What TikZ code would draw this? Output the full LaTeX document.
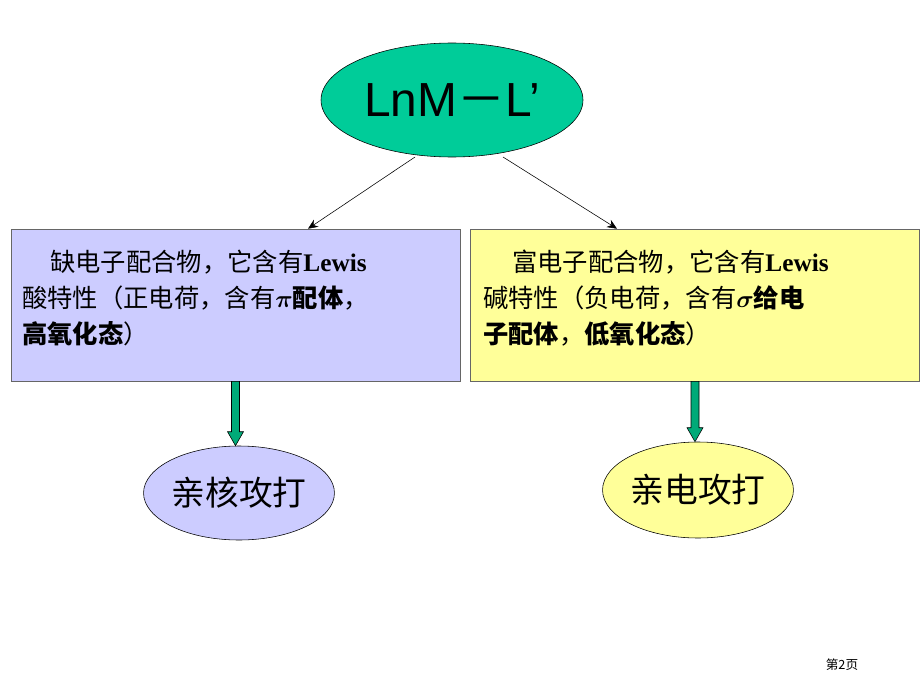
\documentclass[tikz,border=0pt]{standalone}
\usepackage{amsmath}
\usepackage{bm}
\usepackage{fontspec}
\setmainfont{Liberation Serif}
\setsansfont{Liberation Sans}
\newfontfamily\cjk{Noto Sans CJK SC}
\usetikzlibrary{positioning,calc,arrows.meta,shapes.geometric}
\definecolor{topgreen}{RGB}{0,204,153}
\definecolor{lilac}{RGB}{204,204,255}
\definecolor{paleyellow}{RGB}{255,255,153}
\definecolor{shaftgreen}{RGB}{0,170,120}
\tikzset{
  blob/.style={ellipse, draw=black, inner sep=0pt},
  panel/.style={draw=black!60, minimum width=449*0.025cm, minimum height=152*0.025cm, inner sep=0pt},
  line/.style={anchor=west, inner sep=0pt, font=\fontsize{18}{20}\selectfont\cjk},
}
\newcommand{\bx}[1]{{\bfseries #1}}
\newcommand{\lw}{{\rmfamily\bfseries Lewis}}
\begin{document}
\begin{tikzpicture}[x=0.025cm,y=-0.025cm]
  \useasboundingbox (0,0) rectangle (920,690);
  % top
  \node[blob, fill=topgreen, minimum width=262*0.025cm, minimum height=114*0.025cm,
        font=\fontsize{34}{36}\selectfont\sffamily] (top) at (452,100) {LnM{\cjk －}L'};
  % panels
  \node[panel, fill=lilac] (acc) at (235.5,305) {};
  \node[panel, fill=paleyellow] (don) at (695,305) {};
  \node[line] at (50,262) {缺电子配合物，它含有\lw};
  \node[line] at (22,298) {酸特性（正电荷，含有\bx{$\bm{\pi}$配体}，};
  \node[line] at (22,334) {\bx{高氧化态}）};
  \node[line] at (512,262) {富电子配合物，它含有\lw};
  \node[line] at (483,298) {碱特性（负电荷，含有\bx{$\bm{\sigma}$给电}};
  \node[line] at (483,334) {\bx{子配体}，\bx{低氧化态}）};
  % attack
  \node[blob, fill=lilac, minimum width=182*0.025cm, minimum height=94*0.025cm,
        font=\fontsize{24}{26}\selectfont\cjk] (nuc) at (239,493) {亲核攻打};
  \node[blob, fill=paleyellow, minimum width=186*0.025cm, minimum height=96*0.025cm,
        font=\fontsize{24}{26}\selectfont\cjk] (ele) at (698,490) {亲电攻打};
  % connectors
  \coordinate (tl) at (415,157);
  \coordinate (tr) at (503,157);
  \draw[-{Stealth[length=7pt,width=6pt]}] (tl) -- (acc.north -| 308,0);
  \draw[-{Stealth[length=7pt,width=6pt]}] (tr) -- (don.north -| 617,0);
  \foreach \a/\b in {acc/nuc, don/ele} {
    \draw[fill=shaftgreen]
      let \p1=(\a.south), \p2=(\b.north) in
      (\x1-4*0.025cm,\y1) -- (\x1+4*0.025cm,\y1) -- (\x1+4*0.025cm,\y2+14*0.025cm)
      -- (\x1+8*0.025cm,\y2+14*0.025cm) -- (\x1,\y2) -- (\x1-8*0.025cm,\y2+14*0.025cm)
      -- (\x1-4*0.025cm,\y2+14*0.025cm) -- cycle;
  }
  \node[font=\fontsize{9}{10}\selectfont\cjk] (pg) at (842,665) {第2页};
\end{tikzpicture}
\end{document}
